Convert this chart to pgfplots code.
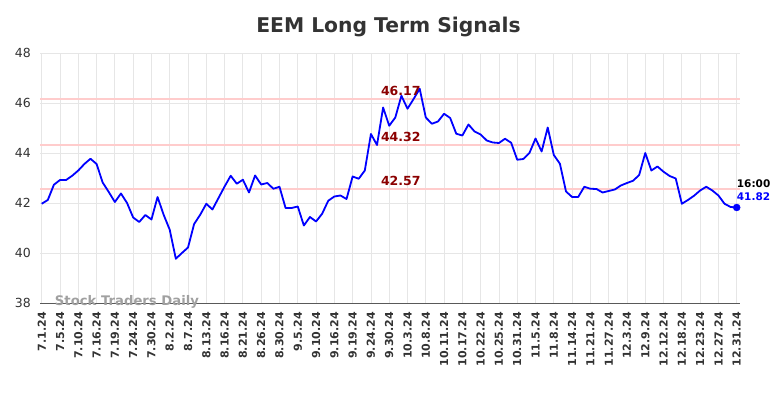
\documentclass[border=0pt]{standalone}
\usepackage{pgfplots}
\pgfplotsset{compat=1.18}
\usepackage{fontspec}
\setmainfont{DejaVu Sans}
\definecolor{lineblue}{RGB}{0,0,255}
\definecolor{reflight}{RGB}{255,204,204}
\definecolor{refdark}{RGB}{139,0,0}
\definecolor{titlegray}{RGB}{51,51,51}
\definecolor{gridgray}{RGB}{230,230,230}
\definecolor{wmgray}{RGB}{160,160,160}
\pgfplotstableread{
x y
0 41.97
1 42.12
2 42.73
3 42.92
4 42.92
5 43.09
6 43.30
7 43.56
8 43.77
9 43.56
10 42.82
11 42.44
12 42.04
13 42.38
14 42.00
15 41.42
16 41.24
17 41.52
18 41.34
19 42.24
20 41.53
21 40.93
22 39.77
23 40.00
24 40.22
25 41.16
26 41.53
27 41.97
28 41.74
29 42.20
30 42.66
31 43.09
32 42.77
33 42.93
34 42.42
35 43.10
36 42.74
37 42.80
38 42.57
39 42.65
40 41.80
41 41.80
42 41.86
43 41.10
44 41.44
45 41.26
46 41.57
47 42.09
48 42.26
49 42.30
50 42.16
51 43.06
52 42.97
53 43.30
54 44.76
55 44.32
56 45.82
57 45.09
58 45.42
59 46.29
60 45.77
61 46.16
62 46.57
63 45.42
64 45.17
65 45.26
66 45.57
67 45.40
68 44.77
69 44.70
70 45.14
71 44.86
72 44.74
73 44.50
74 44.42
75 44.40
76 44.57
77 44.41
78 43.73
79 43.76
80 44.00
81 44.58
82 44.06
83 45.02
84 43.92
85 43.57
86 42.46
87 42.24
88 42.24
89 42.65
90 42.57
91 42.56
92 42.42
93 42.48
94 42.54
95 42.70
96 42.80
97 42.89
98 43.12
99 44.00
100 43.30
101 43.46
102 43.25
103 43.08
104 42.98
105 41.97
106 42.12
107 42.29
108 42.50
109 42.65
110 42.50
111 42.30
112 41.97
113 41.84
114 41.82
}\pricedata
\begin{document}
\begin{tikzpicture}[x=1pt,y=1pt]
\path[use as bounding box] (0,0) rectangle (784,398);
\node[anchor=base, text=titlegray, font=\bfseries\fontsize{20.3}{20.3}\selectfont] at (388.5,365) {EEM Long Term Signals};
\begin{axis}[
  at={(40pt,95pt)}, anchor=south west,
  scale only axis, width=700pt, height=250pt,
  xmin=-0.28, xmax=114.54, ymin=38, ymax=48,
  ytick={38,40,...,48},
  xtick={0,3,...,114},
  xticklabels={7.1.24,7.5.24,7.10.24,7.16.24,7.19.24,7.24.24,7.30.24,8.2.24,8.7.24,8.13.24,8.16.24,8.21.24,8.26.24,8.30.24,9.5.24,9.10.24,9.16.24,9.19.24,9.24.24,9.30.24,10.3.24,10.8.24,10.11.24,10.17.24,10.22.24,10.25.24,10.31.24,11.5.24,11.8.24,11.14.24,11.21.24,11.27.24,12.3.24,12.9.24,12.12.24,12.18.24,12.23.24,12.27.24,12.31.24},
  /pgf/number format/assume math mode=true,
  x tick label style={rotate=90, anchor=east, inner sep=0pt, text=titlegray, font=\bfseries\fontsize{11}{11}\selectfont},
  y tick label style={anchor=east, inner sep=0pt, text=titlegray, font=\fontsize{12.5}{12.5}\selectfont},
  xticklabel shift=9pt, yticklabel shift=9pt,
  major tick length=0pt,
  grid=major, major grid style={draw=gridgray, line width=0.8pt},
  axis x line=bottom, axis y line=left,
  axis line style={-},
  x axis line style={draw=black!65, line width=0.9pt},
  y axis line style={draw=none},
  clip=false,
]
\addplot[draw=reflight, line width=2.2pt, forget plot] coordinates {(-0.28,46.17) (114.54,46.17)};
\addplot[draw=reflight, line width=2.2pt, forget plot] coordinates {(-0.28,44.32) (114.54,44.32)};
\addplot[draw=reflight, line width=2.2pt, forget plot] coordinates {(-0.28,42.57) (114.54,42.57)};
\node[anchor=base west, text=wmgray, font=\bfseries\fontsize{13.2}{13.2}\selectfont] at (axis cs:1.6,37.89) {Stock Traders Daily};
\addplot[draw=lineblue, line width=1.8pt, line join=round] table[x=x,y=y] {\pricedata};
\addplot[only marks, mark=*, mark size=3.5pt, color=lineblue] coordinates {(114,41.82)};
\node[anchor=base, text=refdark, font=\bfseries\fontsize{12.5}{12.5}\selectfont] at (axis cs:58.9,46.17) [yshift=2.8pt] {46.17};
\node[anchor=base, text=refdark, font=\bfseries\fontsize{12.5}{12.5}\selectfont] at (axis cs:58.9,44.32) [yshift=3.5pt] {44.32};
\node[anchor=base, text=refdark, font=\bfseries\fontsize{12.5}{12.5}\selectfont] at (axis cs:58.9,42.57) [yshift=3.5pt] {42.57};
\node[anchor=base west, inner sep=0pt, text=black, font=\bfseries\fontsize{10.5}{10.5}\selectfont] at (axis cs:114,41.82) [yshift=19.8pt] {16:00};
\node[anchor=base west, inner sep=0pt, text=lineblue, font=\bfseries\fontsize{10.5}{10.5}\selectfont] at (axis cs:114,41.82) [yshift=6.8pt] {41.82};
\end{axis}
\end{tikzpicture}
\end{document}
